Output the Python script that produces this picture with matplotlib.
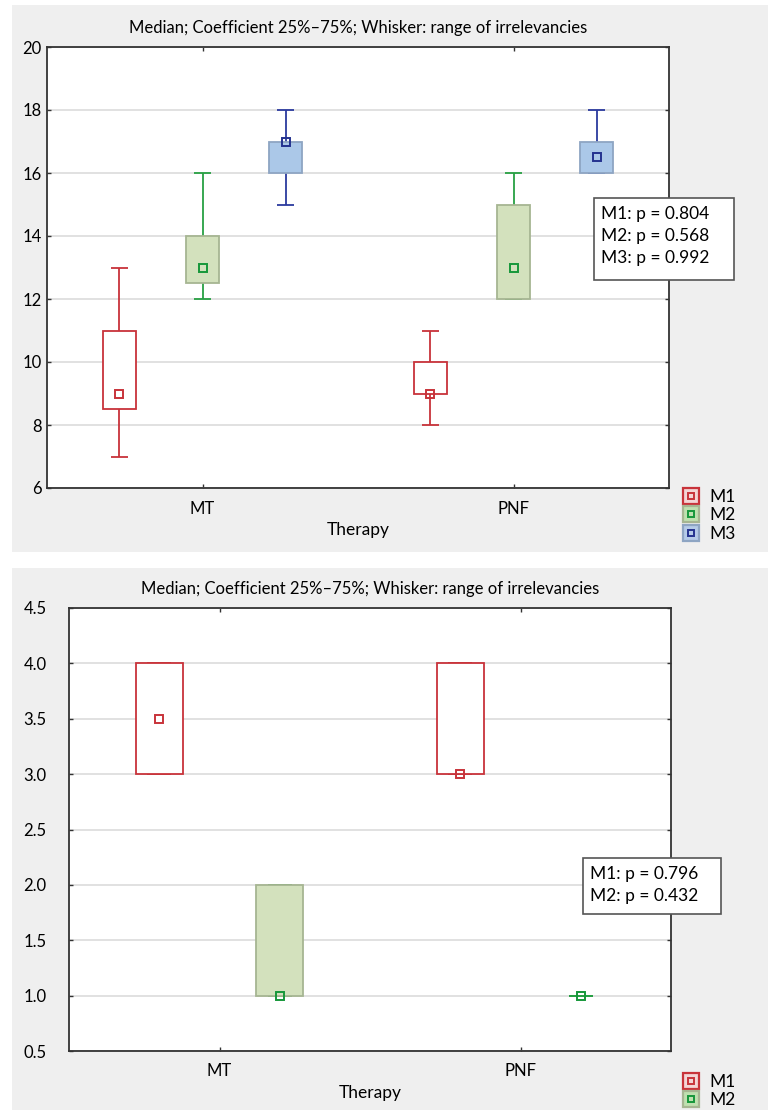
import matplotlib
matplotlib.use('Agg')
import matplotlib.pyplot as plt
from matplotlib.lines import Line2D
from matplotlib.patches import Rectangle
from matplotlib.legend_handler import HandlerTuple

plt.rcParams['font.family'] = ['Lato', 'DejaVu Sans']

W, H = 768, 1110

# ---- data -------------------------------------------------------------
therapies = ['MT', 'PNF']
title = 'Median; Coefficient 25%\u201375%; Whisker: range of irrelevancies'

# top panel: M1, M2, M3 ; per therapy (MT, PNF)
top_series = ['M1', 'M2', 'M3']
top_med = {'M1': [9, 9], 'M2': [13, 13], 'M3': [17, 16.5]}
top_q1 = {'M1': [8.5, 9], 'M2': [12.5, 12], 'M3': [16, 16]}
top_q3 = {'M1': [11, 10], 'M2': [14, 15], 'M3': [17, 17]}
top_lo = {'M1': [7, 8], 'M2': [12, 12], 'M3': [15, 16]}
top_hi = {'M1': [13, 11], 'M2': [16, 16], 'M3': [18, 18]}
top_pvals = ['0.804', '0.568', '0.992']
top_yticks = [6, 8, 10, 12, 14, 16, 18, 20]

# bottom panel: M1, M2
bot_series = ['M1', 'M2']
bot_med = {'M1': [3.5, 3], 'M2': [1, 1]}
bot_q1 = {'M1': [3, 3], 'M2': [1, 1]}
bot_q3 = {'M1': [4, 4], 'M2': [2, 1]}
bot_lo = {'M1': [3, 3], 'M2': [1, 1]}
bot_hi = {'M1': [4, 4], 'M2': [2, 1]}
bot_pvals = ['0.796', '0.432']
bot_yticks = [0.5, 1.0, 1.5, 2.0, 2.5, 3.0, 3.5, 4.0, 4.5]

# ---- styles -----------------------------------------------------------
style = {
    'M1': dict(face='white', edge='#c8333a', whisk='#c8333a', mark='#c8333a', legface='#f3d5d6'),
    'M2': dict(face='#d3e1bd', edge='#a6b592', whisk='#27a043', mark='#16973a', legface='#bfe0b0'),
    'M3': dict(face='#abc8e8', edge='#8ea5c3', whisk='#2b3a9e', mark='#24328f', legface='#b5cbe8'),
}
GRID = '#dcdcdc'
PANEL = '#efefef'
SPINE = '#333333'


def fpx(x, y):
    return x / W, 1 - y / H


def fig_rect(x0, y0, x1, y1, **kw):
    fig.patches.append(Rectangle(fpx(x0, y1), (x1 - x0) / W, (y1 - y0) / H,
                                 transform=fig.transFigure, **kw))


fig = plt.figure(figsize=(W / 100, H / 100), dpi=100)
fig.patch.set_facecolor('white')
fig_rect(12, 5, 768, 552, facecolor=PANEL, edgecolor='none', zorder=-10)
fig_rect(12, 568, 768, 1110, facecolor=PANEL, edgecolor='none', zorder=-10)


def draw_panel(ax, series, med, q1, q3, lo, hi, offsets, bw, yticks, ypad):
    ax.set_facecolor('white')
    for i, s in enumerate(series):
        st = style[s]
        xs = [k + offsets[i] for k in range(len(therapies))]
        ax.vlines(xs, lo[s], hi[s], color=st['whisk'], lw=1.3, zorder=2)
        ax.hlines(lo[s], [x - bw / 4 for x in xs], [x + bw / 4 for x in xs],
                  color=st['whisk'], lw=1.3, zorder=2)
        ax.hlines(hi[s], [x - bw / 4 for x in xs], [x + bw / 4 for x in xs],
                  color=st['whisk'], lw=1.3, zorder=2)
        for x, a, b in zip(xs, q1[s], q3[s]):
            if b > a:
                ax.bar(x, b - a, bottom=a, width=bw, facecolor=st['face'],
                       edgecolor=st['edge'], lw=1.3, zorder=3)
        ax.plot(xs, med[s], ls='none', marker='s', ms=5.5, mfc='none',
                mec=st['mark'], mew=1.4, zorder=4)
    ax.set_xlim(-0.5, 1.5)
    ax.set_ylim(yticks[0], yticks[-1])
    ax.set_yticks(yticks)
    ax.set_yticklabels([f'{t:g}' if isinstance(t, int) else f'{t:.1f}' for t in yticks])
    ax.set_xticks(range(len(therapies)))
    ax.set_xticklabels(therapies)
    ax.yaxis.grid(True, color=GRID, lw=1.2, zorder=0)
    ax.set_axisbelow(True)
    ax.tick_params(direction='in', length=3, width=1, color=SPINE,
                   top=True, right=True, labelsize=12)
    ax.tick_params(axis='y', pad=ypad)
    ax.tick_params(axis='x', pad=9)
    for sp in ax.spines.values():
        sp.set_color(SPINE)
        sp.set_linewidth(1.3)
    ax.set_xlabel('Therapy', fontsize=12.5, labelpad=4)
    ax.set_title(title, fontsize=12, pad=10)


def legend_handles(series):
    hs = []
    for s in series:
        st = style[s]
        outer = Line2D([], [], ls='none', marker='s', ms=11, mfc=st['legface'],
                       mec=st['edge'] if s != 'M1' else st['whisk'], mew=1.6)
        inner = Line2D([], [], ls='none', marker='s', ms=4.5, mfc='none',
                       mec=st['mark'], mew=1.4)
        hs.append((outer, inner))
    return hs


def p_box(x0, y0, x1, y1, lines):
    fig_rect(x0, y0, x1, y1, facecolor='white', edgecolor='#555555', lw=1.2, zorder=5)
    tx, ty = fpx(x0 + 7, y0 + 8)
    fig.text(tx, ty, '\n'.join(lines), fontsize=12.5, va='top', ha='left',
             linespacing=1.45, zorder=6)


# ---- top panel --------------------------------------------------------
ax1 = fig.add_axes([47 / W, 1 - 488 / H, 622 / W, 441 / H])
draw_panel(ax1, top_series, top_med, top_q1, top_q3, top_lo, top_hi,
           [-0.267, 0.0, 0.267], 0.106, top_yticks, 4)
p_box(594, 198, 734, 280, [f'{s}: p = {p}' for s, p in zip(top_series, top_pvals)])
fig.legend(legend_handles(top_series), top_series, loc='upper left',
           bbox_to_anchor=fpx(675, 480), frameon=False, fontsize=12.5,
           handler_map={tuple: HandlerTuple(ndivide=1)}, handlelength=0.9,
           handletextpad=0.6, labelspacing=0.15, borderpad=0)

# ---- bottom panel -----------------------------------------------------
ax2 = fig.add_axes([69 / W, 1 - 1051 / H, 602 / W, 443 / H])
draw_panel(ax2, bot_series, bot_med, bot_q1, bot_q3, bot_lo, bot_hi,
           [-0.2, 0.2], 0.157, bot_yticks, 16)
p_box(583, 858, 721, 914, [f'{s}: p = {p}' for s, p in zip(bot_series, bot_pvals)])
fig.legend(legend_handles(bot_series), bot_series, loc='upper left',
           bbox_to_anchor=fpx(675, 1065), frameon=False, fontsize=12.5,
           handler_map={tuple: HandlerTuple(ndivide=1)}, handlelength=0.9,
           handletextpad=0.6, labelspacing=0.15, borderpad=0)

fig.savefig('out.png', dpi=100)
